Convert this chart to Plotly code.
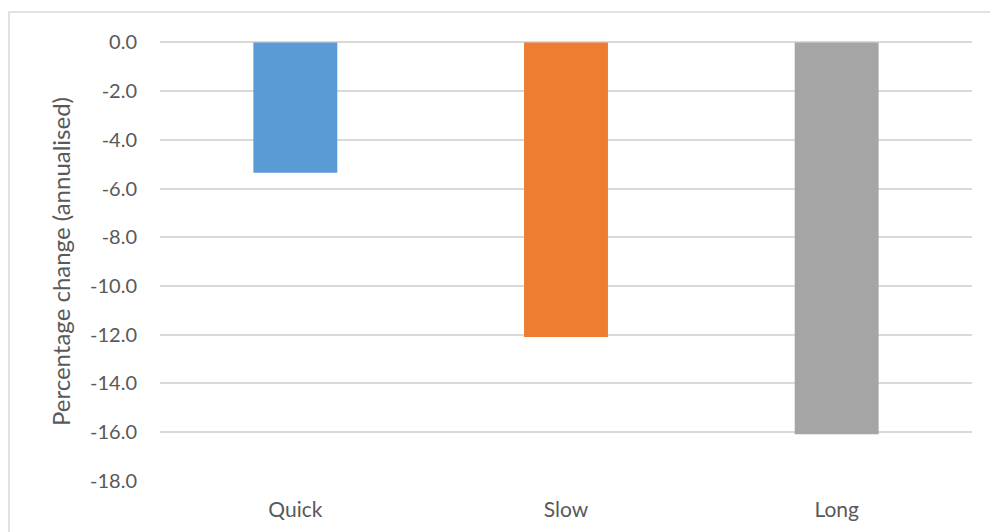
import plotly.graph_objects as go

categories = ["Quick", "Slow", "Long"]
values = [-5.35, -12.1, -16.1]
colors = ["#5B9BD5", "#ED7D31", "#A5A5A5"]
tick_vals = [0, -2, -4, -6, -8, -10, -12, -14, -16, -18]
tick_text = ["0.0", "-2.0", "-4.0", "-6.0", "-8.0", "-10.0", "-12.0", "-14.0", "-16.0", "-18.0"]

fig = go.Figure()
fig.add_trace(go.Bar(
    x=categories, y=values, marker=dict(color=colors, line=dict(width=0)),
    width=0.31,
))

font_family = "Lato, Open Sans, sans-serif"
fig.update_layout(
    width=990, height=532,
    margin=dict(l=160, r=18, t=42, b=51),
    paper_bgcolor="white", plot_bgcolor="white",
    showlegend=False,
    font=dict(family=font_family, color="#595959", size=20),
    xaxis=dict(
        showgrid=False, showline=False, ticks="", tickfont=dict(size=21),
        ticklabelstandoff=14,
    ),
    yaxis=dict(
        range=[-18.02, 0.02], tickvals=tick_vals, ticktext=tick_text,
        showgrid=True, gridcolor="#D9D9D9", gridwidth=1.5,
        zeroline=True, zerolinecolor="#D9D9D9", zerolinewidth=1.5,
        ticks="", tickfont=dict(size=20), ticklabelstandoff=22,
        title=dict(text="Percentage change (annualised)", font=dict(size=24, color="#595959"), standoff=12),
    ),
    shapes=[dict(
        type="rect", xref="paper", yref="paper",
        x0=(9 - 160) / 812, x1=1.1, y0=-0.3, y1=(481 - 12) / 439,
        line=dict(color="#D9D9D9", width=1.5), fillcolor="rgba(0,0,0,0)", layer="below",
    )],
)

fig.write_html("out.html")
